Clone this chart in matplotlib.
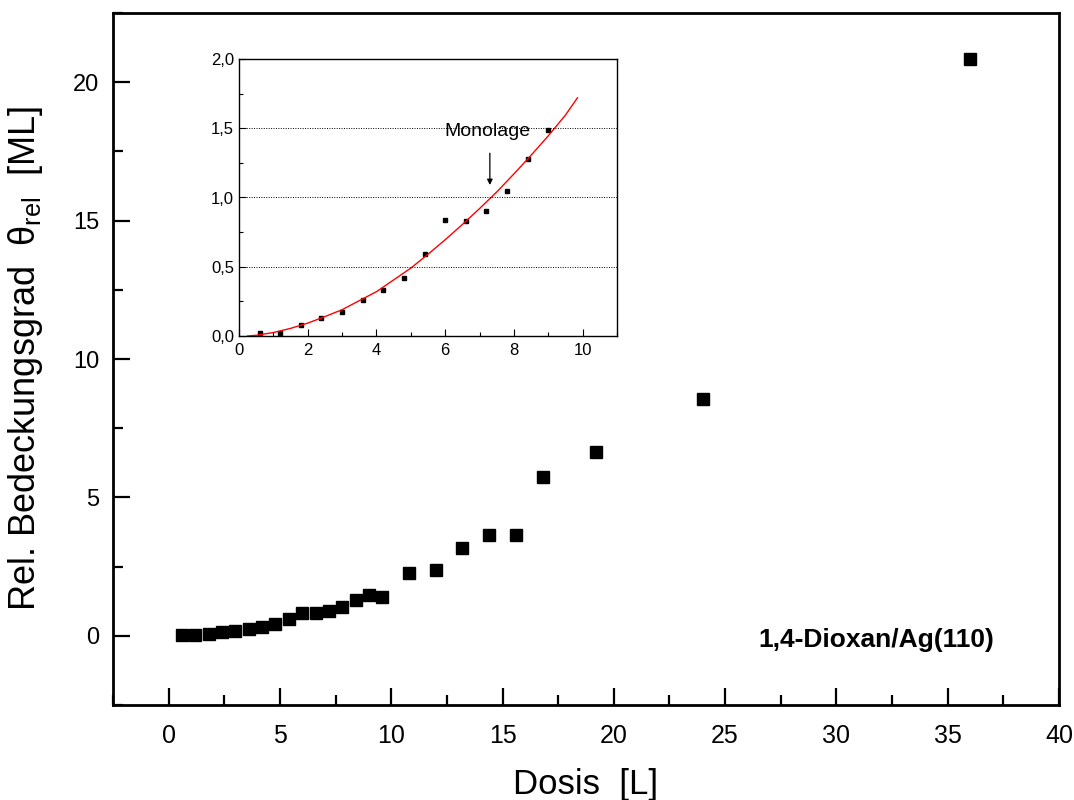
import numpy as np
import matplotlib.pyplot as plt
from matplotlib.ticker import MultipleLocator, FuncFormatter

plt.rcParams['font.family'] = ['Liberation Sans', 'DejaVu Sans']
plt.rcParams['mathtext.fontset'] = 'custom'
plt.rcParams['mathtext.rm'] = 'Liberation Sans'
plt.rcParams['mathtext.default'] = 'regular'

# Messdaten: Dosis [L] und relativer Bedeckungsgrad [ML]
dosis = [0.6, 1.2, 1.8, 2.4, 3.0, 3.6, 4.2, 4.8, 5.4, 6.0, 6.6, 7.2, 7.8, 8.4,
         9.0, 9.6, 10.8, 12.0, 13.2, 14.4, 15.6, 16.8, 19.2, 24.0, 36.0]
theta = [0.02, 0.02, 0.08, 0.13, 0.17, 0.26, 0.33, 0.42, 0.59, 0.84, 0.83, 0.90,
         1.05, 1.28, 1.49, 1.40, 2.27, 2.38, 3.18, 3.65, 3.65, 5.72, 6.64, 8.55, 20.85]

# Fitkurve im Inset
fit_x = [0.25, 0.5, 1.0, 1.5, 2.0, 2.5, 3.0, 3.5, 4.0, 4.5, 5.0, 5.5, 6.0,
         6.5, 7.0, 7.5, 8.0, 8.5, 9.0, 9.5, 9.85]
fit_y = [0.0, 0.005, 0.025, 0.055, 0.093, 0.14, 0.19, 0.255, 0.32, 0.405, 0.49,
         0.59, 0.695, 0.805, 0.92, 1.04, 1.17, 1.305, 1.445, 1.595, 1.72]

n_inset = 15

fig = plt.figure(figsize=(10.74, 8.0), dpi=100)

# Hauptgrafik
ax = fig.add_axes([113/1074, 1-705/800, (1059-113)/1074, (705-13)/800])
ax.plot(dosis, theta, 's', color='black', markersize=8, linestyle='none')
ax.set_xlim(-2.5, 40)
ax.set_ylim(-2.5, 22.5)
ax.xaxis.set_major_locator(MultipleLocator(5))
ax.xaxis.set_minor_locator(MultipleLocator(2.5))
ax.yaxis.set_major_locator(MultipleLocator(5))
ax.yaxis.set_minor_locator(MultipleLocator(2.5))
ax.tick_params(which='both', direction='in', top=False, right=False, width=1.6)
ax.tick_params(which='major', length=12)
ax.tick_params(which='minor', length=7)
ax.tick_params(axis='x', pad=14, labelsize=18)
ax.tick_params(axis='y', pad=10, labelsize=17)
for s in ax.spines.values():
    s.set_linewidth(2.0)
ax.set_xlabel('Dosis  [L]', fontsize=25, labelpad=14)
ax.set_ylabel(r'Rel. Bedeckungsgrad  $\theta_{rel}$  [ML]', fontsize=26)
ax.yaxis.set_label_coords(-0.072, 0.5)
ax.text(37.1, -0.15, '1,4-Dioxan/Ag(110)', fontsize=19, fontweight='bold',
        ha='right', va='center')

# Inset
ins = fig.add_axes([239/1074, 1-336/800, (617-239)/1074, (336-59)/800])
ins.plot(dosis[:n_inset], theta[:n_inset], 's', color='black', markersize=3.5)
ins.plot(fit_x, fit_y, '-', color='red', linewidth=1.0)
for yv in [0.5, 1.0, 1.5]:
    ins.axhline(yv, color='black', linestyle=(0, (1, 1.5)), linewidth=0.7)
ins.set_xlim(0, 11)
ins.set_ylim(0, 2)
ins.xaxis.set_major_locator(MultipleLocator(2))
ins.xaxis.set_minor_locator(MultipleLocator(1))
ins.yaxis.set_major_locator(MultipleLocator(0.5))
ins.yaxis.set_minor_locator(MultipleLocator(0.25))
ins.yaxis.set_major_formatter(FuncFormatter(lambda v, p: ('%.1f' % v).replace('.', ',')))
ins.tick_params(which='both', direction='in', top=False, right=False, labelsize=12, width=0.8)
ins.tick_params(which='major', length=5)
ins.tick_params(which='minor', length=3)
ins.tick_params(axis='x', pad=5)
for s in ins.spines.values():
    s.set_linewidth(1.0)
ins.annotate('', xy=(7.3, 1.07), xytext=(7.3, 1.34),
             arrowprops=dict(arrowstyle='-|>', color='black', lw=0.9, mutation_scale=8))
ins.text(7.22, 1.475, 'Monolage', fontsize=14, ha='center', va='center')

fig.savefig('out.png', dpi=100)
